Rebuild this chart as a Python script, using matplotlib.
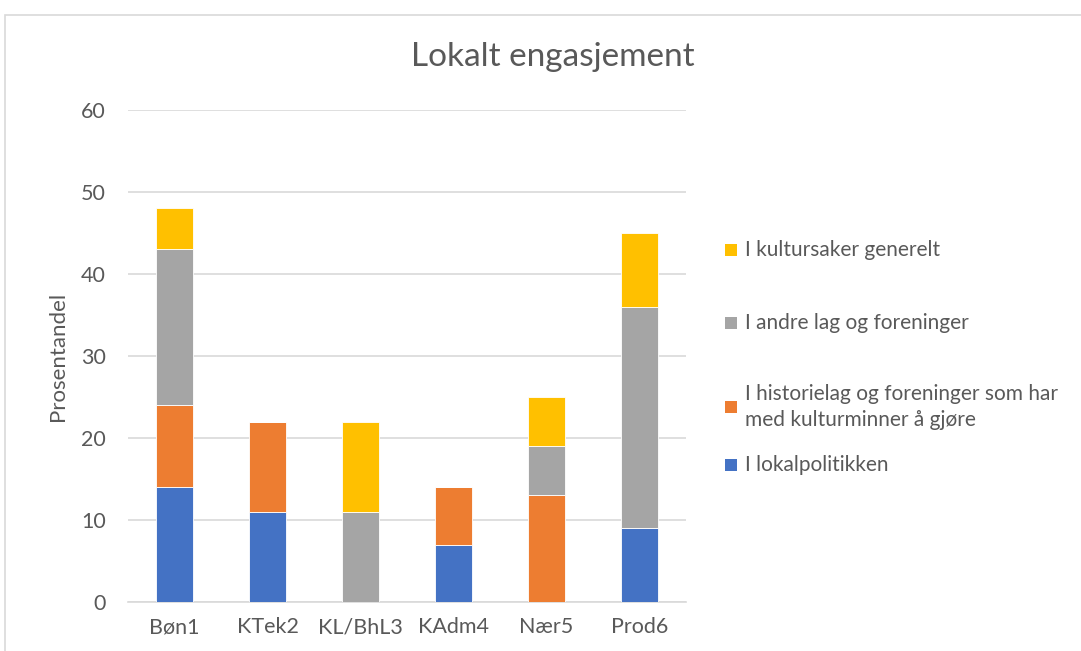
import matplotlib
matplotlib.use("Agg")
import matplotlib.pyplot as plt
from matplotlib.patches import Rectangle
import numpy as np

plt.rcParams['font.family'] = ['Lato', 'DejaVu Sans']

categories = ["Bøn1", "KTek2", "KL/BhL3", "KAdm4", "Nær5", "Prod6"]
series_names = ["I lokalpolitikken",
                "I historielag og foreninger som har\nmed kulturminner å gjøre",
                "I andre lag og foreninger",
                "I kultursaker generelt"]
lokalpolitikk = [14, 11, 0, 7, 0, 9]
historielag = [10, 11, 0, 7, 13, 0]
andre_lag = [19, 0, 11, 0, 6, 27]
kultursaker = [5, 0, 11, 0, 6, 9]
colors = ["#4472C4", "#ED7D31", "#A5A5A5", "#FFC000"]
yticks = [0, 10, 20, 30, 40, 50, 60]

W, H = 1081, 651
fig = plt.figure(figsize=(W / 100, H / 100), dpi=100)
text_color = "#595959"

# chart border
fig.add_artist(Rectangle((5 / W, -0.05), 1.1, (H - 15) / H + 0.05, transform=fig.transFigure,
                         fill=False, edgecolor="#d9d9d9", linewidth=1.2))

ax = fig.add_axes([128 / W, (H - 602) / H, 558 / W, (602 - 110) / H])
x = np.arange(len(categories))
bottom = np.zeros(len(categories))
data = [lokalpolitikk, historielag, andre_lag, kultursaker]
for vals, c in zip(data, colors):
    vals = np.array(vals, dtype=float)
    ax.bar(x, vals, 0.4, bottom=bottom, color=c, edgecolor="white", linewidth=0.6, zorder=3)
    bottom += vals

ax.set_xlim(-0.5, len(categories) - 0.5)
ax.set_ylim(0, 60)
ax.set_yticks(yticks)
ax.set_yticklabels([str(t) for t in yticks])
ax.set_xticks(x)
ax.set_xticklabels(categories)
ax.grid(axis="y", color="#d9d9d9", linewidth=1.2, zorder=0)
ax.set_axisbelow(True)
for s in ["top", "right", "left"]:
    ax.spines[s].set_visible(False)
ax.spines["bottom"].set_color("#d9d9d9")
ax.spines["bottom"].set_linewidth(1.2)
ax.tick_params(axis="both", length=0, labelsize=15.5, colors=text_color)
ax.tick_params(axis="y", pad=16)
ax.tick_params(axis="x", pad=11)
ax.set_ylabel("Prosentandel", fontsize=16, color=text_color, labelpad=9)

fig.text(553 / W, 1 - 57 / H, "Lokalt engasjement", ha="center", va="center",
         fontsize=24, color=text_color)

# legend (top to bottom: reversed series order)
legend_y = [250, 323, 407, 465]
for name, c, yy in zip(series_names[::-1], colors[::-1], legend_y):
    fig.add_artist(Rectangle((725 / W, 1 - (yy + 6) / H), 12 / W, 12 / H,
                             transform=fig.transFigure, facecolor=c, edgecolor="none"))
    fig.text(745 / W, 1 - yy / H, name, ha="left", va="center", fontsize=15,
             color=text_color, linespacing=1.4)

fig.savefig("out.png", dpi=100)
